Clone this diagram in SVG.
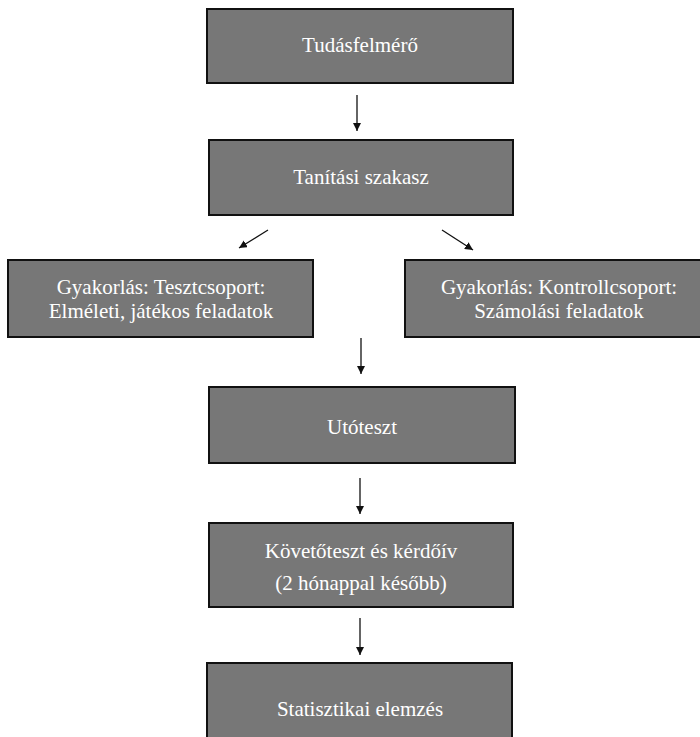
<svg xmlns="http://www.w3.org/2000/svg" width="700" height="737" viewBox="0 0 700 737">
<defs>
<style>
.box{fill:#777777;stroke:#111111;stroke-width:2}
.t{font-family:"Liberation Serif","Times New Roman",serif;font-size:21px;fill:#ffffff;text-anchor:middle}
.c{stroke:#111111;stroke-width:1.3;fill:none}
</style>
<marker id="ah" viewBox="0 0 10 10" refX="10" refY="5" markerWidth="8" markerHeight="8" markerUnits="userSpaceOnUse" orient="auto">
<path d="M0,0 L10,5 L0,10 Z" fill="#111111"/>
</marker>
</defs>
<rect width="700" height="737" fill="#ffffff"/>
<g id="n1"><rect class="box" x="207" y="9" width="306" height="74"/><text class="t" x="360" y="52">Tudásfelmérő</text></g>
<g id="n2"><rect class="box" x="209" y="140" width="304" height="75"/><text class="t" x="361" y="184">Tanítási szakasz</text></g>
<g id="n3"><rect class="box" x="8" y="260" width="305" height="77"/><text class="t" x="161" y="294">Gyakorlás: Tesztcsoport:</text><text class="t" x="161" y="318">Elméleti, játékos feladatok</text></g>
<g id="n4"><rect class="box" x="405" y="260" width="310" height="77"/><text class="t" x="559" y="294">Gyakorlás: Kontrollcsoport:</text><text class="t" x="559" y="318">Számolási feladatok</text></g>
<g id="n5"><rect class="box" x="209" y="387" width="306" height="76"/><text class="t" x="362" y="434">Utóteszt</text></g>
<g id="n6"><rect class="box" x="209" y="523" width="304" height="84"/><text class="t" x="361" y="558">Követőteszt és kérdőív</text><text class="t" x="361" y="590">(2 hónappal később)</text></g>
<g id="n7"><rect class="box" x="207" y="663" width="305" height="80"/><text class="t" x="360" y="716">Statisztikai elemzés</text></g>
<g id="connectors">
<line class="c" x1="357" y1="95" x2="357" y2="131" marker-end="url(#ah)"/>
<line class="c" x1="268" y1="230" x2="239" y2="248" marker-end="url(#ah)"/>
<line class="c" x1="442" y1="230" x2="473" y2="250" marker-end="url(#ah)"/>
<line class="c" x1="361" y1="338" x2="361" y2="374" marker-end="url(#ah)"/>
<line class="c" x1="360" y1="478" x2="360" y2="514" marker-end="url(#ah)"/>
<line class="c" x1="360" y1="618" x2="360" y2="655" marker-end="url(#ah)"/>
</g>
</svg>
